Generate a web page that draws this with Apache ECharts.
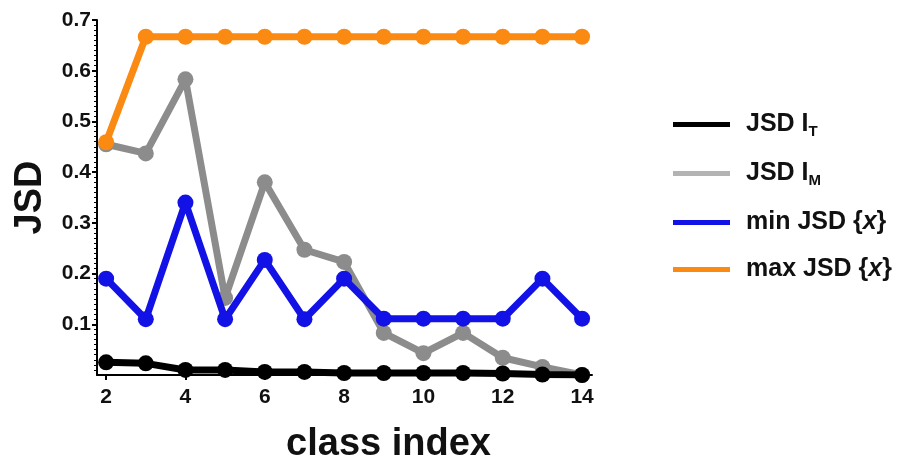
<!DOCTYPE html>
<html>
<head>
<meta charset="utf-8">
<script src="https://cdn.jsdelivr.net/npm/echarts@6/dist/echarts.min.js"></script>
<style>html,body{margin:0;padding:0;background:#fff;}#c{width:901px;height:462px;}</style>
</head>
<body>
<div id="c"></div>
<script>
const classIndex = [2,3,4,5,6,7,8,9,10,11,12,13,14];
const jsdIT  = [0.025,0.023,0.010,0.010,0.006,0.006,0.004,0.004,0.004,0.004,0.003,0.001,0.000];
const jsdIM  = [0.455,0.437,0.583,0.152,0.380,0.247,0.223,0.083,0.043,0.083,0.034,0.016,0.000];
const minJSD = [0.190,0.110,0.340,0.110,0.227,0.110,0.190,0.111,0.111,0.111,0.111,0.190,0.111];
const maxJSD = [0.459,0.667,0.667,0.667,0.667,0.667,0.667,0.667,0.667,0.667,0.667,0.667,0.667];
const xTicks = [2,4,6,8,10,12,14];
const yTicks = [0.1,0.2,0.3,0.4,0.5,0.6,0.7];
const seriesNames = ['JSD I{sub|T}','JSD I{sub|M}','min JSD {{it|x}}','max JSD {{it|x}}'];

const colors = ['#000000','#8c8c8c','#1212e6','#fb8a12'];
const legendColors = ['#000000','#b3b3b3','#1212e6','#fb8a12'];
const FONT = 'Liberation Sans';
const pairs = d => classIndex.map((x,i)=>[x,d[i]]);
const allData = [jsdIT, jsdIM, minJSD, maxJSD];

const chart = echarts.init(document.getElementById('c'), null, {renderer:'canvas'});
chart.setOption({
  animation:false,
  backgroundColor:'#fff',
  grid:{left:97,top:20,width:495,height:355,containLabel:false,outerBoundsMode:'none'},
  xAxis:{
    type:'value', min:1.77, max:14.25,
    name:'class index', nameLocation:'middle', nameGap:51,
    nameTextStyle:{fontFamily:FONT,fontWeight:'bold',fontSize:38,color:'#111',padding:[0,0,0,88]},
    axisLine:{lineStyle:{color:'#000',width:2}},
    axisTick:{show:true,customValues:xTicks,length:5,inside:false,lineStyle:{color:'#000',width:2}},
    axisLabel:{customValues:xTicks,fontFamily:FONT,fontWeight:'bold',fontSize:21,color:'#111',margin:12},
    splitLine:{show:false}
  },
  yAxis:{
    type:'value', min:0, max:0.7,
    name:'JSD', nameLocation:'middle', nameGap:47, nameRotate:90,
    nameTextStyle:{fontFamily:FONT,fontWeight:'bold',fontSize:38,color:'#111'},
    axisLine:{show:true,lineStyle:{color:'#000',width:2}},
    axisTick:{show:true,customValues:yTicks,length:5,lineStyle:{color:'#000',width:2}},
    minorTick:{show:true,splitNumber:10,length:3,lineStyle:{color:'#000',width:1}},
    axisLabel:{customValues:yTicks,formatter:v=>v.toFixed(1),fontFamily:FONT,fontWeight:'bold',fontSize:21,color:'#111',margin:6},
    splitLine:{show:false}
  },
  legend:{
    orient:'vertical', left:668, top:107, itemWidth:57, itemHeight:5, itemGap:22,
    icon:'rect',
    data:seriesNames.map((n,i)=>({name:n,itemStyle:{color:legendColors[i]}})),
    textStyle:{fontFamily:FONT,fontWeight:'bold',fontSize:25,color:'#111',padding:[0,0,0,11],
      rich:{
        sub:{fontFamily:FONT,fontWeight:'bold',fontSize:15,color:'#111',verticalAlign:'bottom',padding:[14,0,0,0]},
        it:{fontFamily:FONT,fontWeight:'bold',fontStyle:'italic',fontSize:25,color:'#111'}
      }}
  },
  series:allData.map((d,i)=>({
    name:seriesNames[i], type:'line', data:pairs(d),
    symbol:'circle', symbolSize:16, showSymbol:true,
    lineStyle:{width:7,color:colors[i]}, itemStyle:{color:colors[i]},
    z: [5,2,3,4][i]
  }))
});
</script>
</body>
</html>
